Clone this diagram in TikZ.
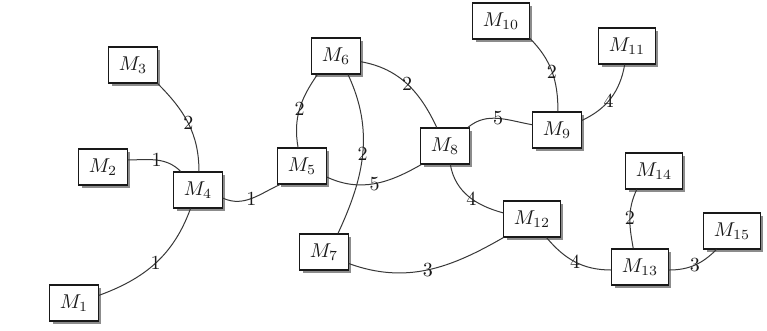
\documentclass[tikz,border=0pt]{standalone}
\usetikzlibrary{shadows}
\begin{document}
\begin{tikzpicture}[x=0.5pt,y=0.5pt,
  mbox/.style={draw=black!90,line width=0.55pt,fill=white,inner xsep=5pt,inner ysep=0pt,
    minimum height=18pt,text=black!90,
    drop shadow={shadow xshift=1.5pt,shadow yshift=-1.5pt,fill=black!45,opacity=1}},
  edge/.style={draw=black!78,line width=0.5pt},
  lbl/.style={text=black!90,inner sep=0pt}]
\fill[white] (0,0) rectangle (767,-331);
\useasboundingbox (0,0) rectangle (767,-331);
\node[mbox] (M1)  at (74,-303)  {$M_1$};
\node[mbox] (M2)  at (103,-167) {$M_2$};
\node[mbox] (M3)  at (133,-65)  {$M_3$};
\node[mbox] (M4)  at (198,-190) {$M_4$};
\node[mbox] (M5)  at (302,-166) {$M_5$};
\node[mbox] (M6)  at (336,-56)  {$M_6$};
\node[mbox] (M7)  at (324,-252) {$M_7$};
\node[mbox] (M8)  at (445,-146) {$M_8$};
\node[mbox] (M9)  at (557,-130) {$M_9$};
\node[mbox] (M10) at (501,-21)  {$M_{10}$};
\node[mbox] (M11) at (627,-46)  {$M_{11}$};
\node[mbox] (M12) at (532,-219) {$M_{12}$};
\node[mbox] (M13) at (640,-267) {$M_{13}$};
\node[mbox] (M14) at (654,-171) {$M_{14}$};
\node[mbox] (M15) at (732,-231) {$M_{15}$};
\path[edge] (M3.-37) to[out=-45,in=90] node[lbl,pos=0.5]{2} (M4.87);
\path[edge] (M2.16) to[out=0,in=135] node[lbl,pos=0.5]{1} (M4.133);
\path[edge] (M1.17) to[out=20,in=-110] node[lbl,pos=0.5]{1} (M4.-112);
\path[edge] (M4.-18) to[out=-25,in=205] node[lbl,pos=0.5]{1} (M5.220);
\path[edge] (M5.102) to[out=100,in=235] node[lbl,pos=0.5]{2} (M6.225);
\path[edge] (M6.-57) to[out=-65,in=65] node[lbl,pos=0.5]{2} (M7.53);
\path[edge] (M6.-13) to[out=-10,in=115] node[lbl,pos=0.5]{2} (M8.114);
\path[edge] (M5.-24) to[out=-25,in=210] node[lbl,pos=0.5]{5} (M8.218);
\path[edge] (M7.-25) to[out=-20,in=210] node[lbl,pos=0.5]{3} (M12.213);
\path[edge] (M8.39) to[out=40,in=170] node[lbl,pos=0.5]{5} (M9.168);
\path[edge] (M8.-74) to[out=-80,in=165] node[lbl,pos=0.55]{4} (M12.168);
\path[edge] (M10.-31) to[out=-45,in=90] node[lbl,pos=0.5]{2} (M9.87);
\path[edge] (M11.-97) to[out=-100,in=25] node[lbl,pos=0.55]{4} (M9.21);
\path[edge] (M12.-52) to[out=-50,in=180] node[lbl,pos=0.5]{4} (M13.186);
\path[edge] (M14.227) to[out=-115,in=100] node[lbl,pos=0.5]{2} (M13.110);
\path[edge] (M13.-6) to[out=0,in=225] node[lbl,pos=0.5]{3} (M15.230);
\end{tikzpicture}
\end{document}
